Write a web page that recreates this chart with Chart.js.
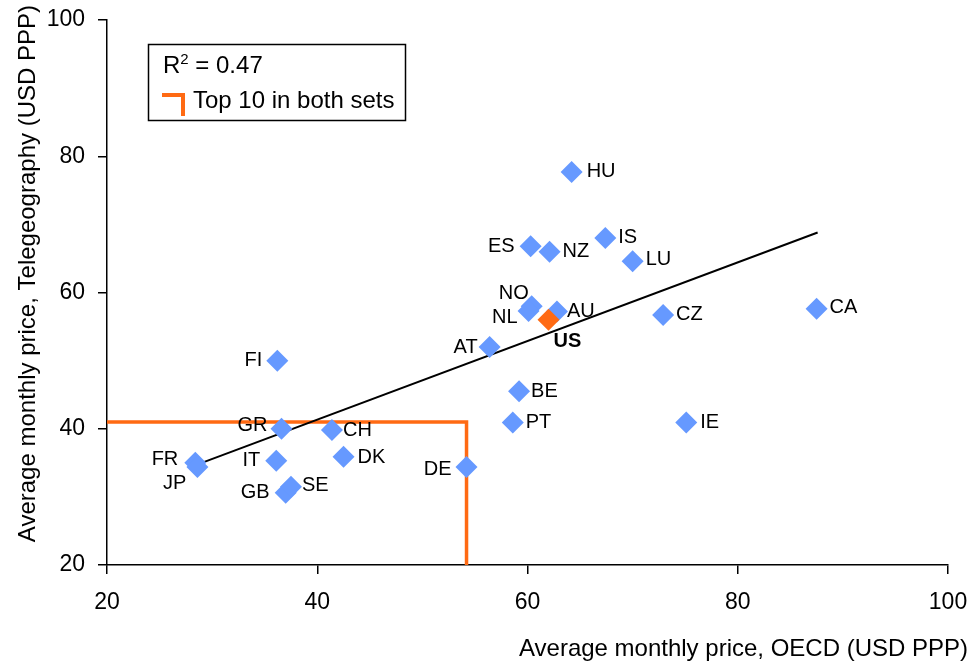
<!DOCTYPE html>
<html>
<head>
<meta charset="utf-8">
<script src="https://cdn.jsdelivr.net/npm/chart.js@4.4.1/dist/chart.umd.min.js"></script>
<style>
html, body { margin: 0; padding: 0; background: #ffffff; }
</style>
</head>
<body>
<canvas id="price-chart" width="971" height="664"></canvas>
<script>
/*global Chart*/

// Data
let countries  = [ 'HU', 'ES', 'NZ', 'IS', 'LU', 'NO', 'NL', 'AU', 'CZ', 'AT', 'CA', 'FI', 'GR', 'CH', 'FR', 'JP', 'IT', 'DK', 'GB', 'SE', 'DE', 'BE', 'PT', 'IE' ];
let oecd_price = [ 64.2, 60.3, 62.1, 67.4, 70.0, 60.4, 60.1, 62.8, 72.9, 56.4, 87.5, 36.2, 36.6, 41.4, 28.4, 28.6, 36.1, 42.5, 37.0, 37.5, 54.2, 59.2, 58.6, 75.1 ];
let tele_price = [ 77.7, 66.8, 66.0, 68.0, 64.6, 58.0, 57.3, 57.2, 56.7, 52.0, 57.6, 50.0, 40.0, 39.8, 35.0, 34.4, 35.3, 35.9, 30.6, 31.5, 34.4, 45.5, 40.9, 40.9 ];

let us_label = [ 'US' ];
let us_oecd  = [ 62.0 ];
let us_tele  = [ 56.0 ];

let trend_x  = [ 28.5, 87.6 ];
let trend_y  = [ 34.7, 68.8 ];

let top10_x  = [ 20, 54.2, 54.2 ];
let top10_y  = [ 41.0, 41.0, 20 ];

let x_ticks  = [ 20, 40, 60, 80, 100 ];
let y_ticks  = [ 20, 40, 60, 80, 100 ];

let x_title      = 'Average monthly price, OECD (USD PPP)';
let y_title      = 'Average monthly price, Telegeography (USD PPP)';
let r_squared    = '0.47';
let legend_label = 'Top 10 in both sets';

// Label placement: [ dx, dy, align ]
let label_place = {
    HU: [ 15, 0, 'left' ],   ES: [ -16, 0, 'right' ], NZ: [ 13, 0, 'left' ],
    IS: [ 13, -1, 'left' ],  LU: [ 13, -2, 'left' ],  NO: [ -3, -13, 'right' ],
    NL: [ -11, 7, 'right' ], AU: [ 10, 0, 'left' ],   CZ: [ 13, 0, 'left' ],
    AT: [ -12, 0, 'right' ], CA: [ 13, -1, 'left' ],  FI: [ -15, 0, 'right' ],
    GR: [ -14, -3, 'right' ], CH: [ 11, 0, 'left' ],  FR: [ -17, -3, 'right' ],
    JP: [ -11, 17, 'right' ], IT: [ -16, 0, 'right' ], DK: [ 14, 1, 'left' ],
    GB: [ -16, 0, 'right' ], SE: [ 11, -1, 'left' ],  DE: [ -15, 3, 'right' ],
    BE: [ 12, 0, 'left' ],   PT: [ 13, 0, 'left' ],   IE: [ 14, 0, 'left' ],
    US: [ 5, 22, 'left' ]
};

const FONT = 'Liberation Sans, Arial, Helvetica, sans-serif';

function to_points( xs, ys ) {
    return xs.map( function( x, i ) { return { x: x, y: ys[ i ] }; } );
}

/**
 * Country codes beside each marker
 */
const point_labels = {
    id: 'pointLabels',
    afterDatasetsDraw: function( chart ) {
        const ctx = chart.ctx;
        ctx.save();
        ctx.fillStyle    = '#000000';
        ctx.textBaseline = 'middle';

        [ [ 0, countries, 'normal' ], [ 1, us_label, 'bold' ] ].forEach( function( set ) {
            const meta = chart.getDatasetMeta( set[ 0 ] );
            ctx.font = set[ 2 ] + ' 20px ' + FONT;
            meta.data.forEach( function( pt, i ) {
                const code  = set[ 1 ][ i ];
                const place = label_place[ code ] || [ 12, 0, 'left' ];
                ctx.textAlign = place[ 2 ];
                ctx.fillText( code, pt.x + place[ 0 ], pt.y + place[ 1 ] );
            });
        });
        ctx.restore();
    }
};

/**
 * Boxed legend with R squared and the orange corner key, plus axis titles
 */
const legend_box = {
    id: 'legendBox',
    afterDraw: function( chart ) {
        const ctx = chart.ctx;
        ctx.save();
        ctx.strokeStyle = '#000000';
        ctx.lineWidth   = 1.5;
        ctx.strokeRect( 148.5, 44.5, 257, 76 );

        ctx.fillStyle    = '#000000';
        ctx.textBaseline = 'alphabetic';
        ctx.textAlign    = 'left';
        ctx.font = '24px ' + FONT;
        ctx.fillText( 'R', 163, 73 );
        let w = ctx.measureText( 'R' ).width;
        ctx.font = '15px ' + FONT;
        ctx.fillText( '2', 163 + w, 64 );
        let w2 = ctx.measureText( '2' ).width;
        ctx.font = '24px ' + FONT;
        ctx.fillText( ' = ' + r_squared, 163 + w + w2, 73 );

        ctx.strokeStyle = '#ff6a13';
        ctx.lineWidth   = 4;
        ctx.beginPath();
        ctx.moveTo( 162, 95 );
        ctx.lineTo( 183, 95 );
        ctx.lineTo( 183, 116 );
        ctx.stroke();

        ctx.fillText( legend_label, 193, 108 );

        // axis titles
        ctx.textAlign = 'right';
        ctx.fillText( x_title, 968, 656 );

        ctx.translate( 35, 5 );
        ctx.rotate( -Math.PI / 2 );
        ctx.fillText( y_title, 0, 0 );
        ctx.restore();
    }
};

let chart = new Chart( document.getElementById( 'price-chart' ), {
    type: 'scatter',
    data: {
        datasets: [
            {
                data:            to_points( oecd_price, tele_price ),
                pointStyle:      'rectRot',
                pointRadius:     11,
                backgroundColor: '#6699ff',
                borderWidth:     0,
                order:           1
            },
            {
                data:            to_points( us_oecd, us_tele ),
                pointStyle:      'rectRot',
                pointRadius:     11,
                backgroundColor: '#ff6a13',
                borderWidth:     0,
                order:           0
            },
            {
                type:        'line',
                data:        to_points( trend_x, trend_y ),
                borderColor: '#000000',
                borderWidth: 2,
                pointRadius: 0,
                fill:        false,
                order:       3
            },
            {
                type:        'line',
                data:        to_points( top10_x, top10_y ),
                borderColor: '#ff6a13',
                borderWidth: 3.5,
                pointRadius: 0,
                fill:        false,
                order:       4
            }
        ]
    },
    options: {
        responsive: false,
        animation:  false,
        layout: { padding: { top: 20, right: 23, left: 0, bottom: 0 } },
        plugins: {
            legend:  { display: false },
            tooltip: { enabled: false }
        },
        scales: {
            x: {
                type: 'linear',
                min: 20, max: 100,
                afterBuildTicks: function( scale ) { scale.ticks = x_ticks.map( function( v ) { return { value: v }; } ); },
                afterFit: function( scale ) {
                    scale.height       = 99;
                    scale.paddingLeft  = 0;
                    scale.paddingRight = 0;
                },
                border: { display: true, color: '#000000', width: 1.5 },
                grid:   { drawOnChartArea: false, drawTicks: true, tickLength: 9, color: '#000000', lineWidth: 1.5 },
                ticks:  { color: '#000000', font: { family: FONT, size: 23 }, padding: 15, maxRotation: 0 }
            },
            y: {
                type: 'linear',
                min: 20, max: 100,
                afterBuildTicks: function( scale ) { scale.ticks = y_ticks.map( function( v ) { return { value: v }; } ); },
                afterFit: function( scale ) {
                    scale.width         = 107;
                    scale.paddingTop    = 0;
                    scale.paddingBottom = 0;
                },
                border: { display: true, color: '#000000', width: 1.5 },
                grid:   { drawOnChartArea: false, drawTicks: true, tickLength: 9, color: '#000000', lineWidth: 1.5 },
                ticks:  { color: '#000000', font: { family: FONT, size: 23 }, padding: 13 }
            }
        }
    },
    plugins: [ point_labels, legend_box ]
});
</script>
</body>
</html>
